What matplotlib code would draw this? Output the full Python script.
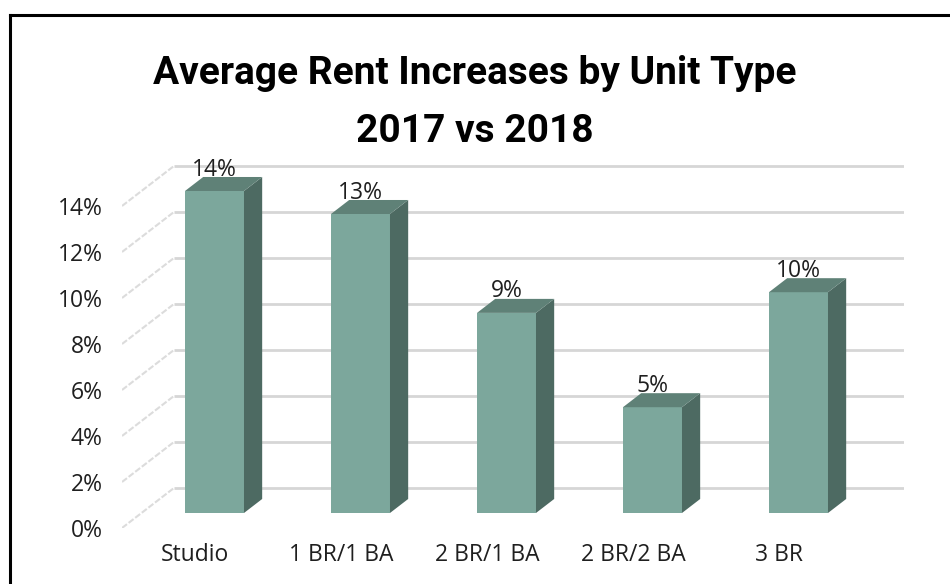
import numpy as np
import matplotlib
matplotlib.use("Agg")
import matplotlib.pyplot as plt
from matplotlib.patches import Polygon
from matplotlib.lines import Line2D

# dane
categories = ["Studio", "1 BR/1 BA", "2 BR/1 BA", "2 BR/2 BA", "3 BR"]
increases = [14.0, 13.0, 8.7, 4.6, 9.6]
value_labels = ["14%", "13%", "9%", "5%", "10%"]
yticks = [0, 2, 4, 6, 8, 10, 12, 14]

# kolory i "glebokosc" pseudo-3D (w jednostkach danych)
c_front = "#7ca79c"
c_top = "#5f8177"
c_side = "#4d6a62"
c_grid = "#d6d6d6"
DX, DY = 0.356, 1.74          # glebokosc calej sciany
F0, F1 = 0.375, 0.725         # przod i tyl slupka (ulamek glebokosci)
BW = 0.404                    # szerokosc slupka

plt.rcParams['font.family'] = ['Open Sans', 'DejaVu Sans']

fig = plt.figure(figsize=(9.5, 5.84), dpi=100)
ax = fig.add_axes([122 / 950, 56 / 584, 782 / 950, 378 / 584])
ax.set_xlim(-0.5, -0.5 + 782 / 146)
ax.set_ylim(0, 378 / 23)
for s in ax.spines.values():
    s.set_visible(False)

# siatka: tylna sciana + boczna sciana
x0 = -0.5
for v in yticks:
    ax.plot([x0 + DX, 4.856], [v + DY, v + DY], color=c_grid, lw=2, zorder=1,
            solid_capstyle='butt')
    ax.plot([x0, x0 + DX], [v, v + DY], color='#dcdcdc', lw=1.5, zorder=1,
            ls=(0, (3, 1)))

# slupki
for i, v in enumerate(increases):
    fx = i + F0 * DX - BW / 2
    fy = F0 * DY
    ddx = (F1 - F0) * DX
    ddy = (F1 - F0) * DY
    front = Polygon([(fx, fy), (fx + BW, fy), (fx + BW, fy + v), (fx, fy + v)],
                    closed=True, fc=c_front, ec='none', zorder=3)
    side = Polygon([(fx + BW, fy), (fx + BW + ddx, fy + ddy),
                    (fx + BW + ddx, fy + ddy + v), (fx + BW, fy + v)],
                   closed=True, fc=c_side, ec='none', zorder=3)
    top = Polygon([(fx, fy + v), (fx + BW, fy + v), (fx + BW + ddx, fy + ddy + v),
                   (fx + ddx, fy + ddy + v)],
                  closed=True, fc=c_top, ec='none', zorder=3)
    for p in (front, side, top):
        ax.add_patch(p)
    ax.text(fx + BW / 2, fy + ddy + v - 0.2, value_labels[i], ha='center', va='bottom',
            fontsize=16.5, color='#1f1f1f', zorder=4)

ax.set_xticks(range(len(categories)))
ax.set_xticklabels(categories, fontsize=16.5, color='#1f1f1f')
ax.set_yticks(yticks)
ax.set_yticklabels([f"{v}%" for v in yticks], fontsize=16.5, color='#1f1f1f')
ax.tick_params(axis='x', length=0, pad=11)
ax.tick_params(axis='y', length=0, pad=14)

# tytul
title_font = ['Roboto', 'DejaVu Sans']
fig.text(0.5, 1 - 74 / 584, "Average Rent Increases by Unit Type", ha='center', va='center',
         fontsize=28, fontweight='bold', family=title_font)
fig.text(0.5, 1 - 131 / 584, "2017 vs 2018", ha='center', va='center',
         fontsize=28, fontweight='bold', family=title_font)

# ramka
fig.add_artist(Line2D([10 / 950, 1], [1 - 15 / 584] * 2, color='black', lw=2.2,
                      transform=fig.transFigure))
fig.add_artist(Line2D([10 / 950] * 2, [0, 1 - 15 / 584], color='black', lw=2.2,
                      transform=fig.transFigure))

fig.savefig("out.png", dpi=100)
